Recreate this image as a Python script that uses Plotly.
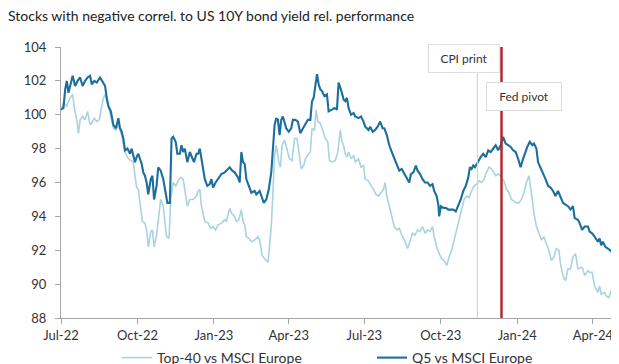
import pandas as pd
import plotly.graph_objects as go

START = "2022-07-01"

# Q5 vs MSCI Europe: day offsets from START and values
q5_days = [0,3,5,7,9,11,14,17,20,23,26,29,32,35,37,40,43,47,51,53,55,57,60,63,66,69,71,73,75,77,80,83,85,87,89,91,93,95,97,99,101,103,105,108,110,112,115,117,120,123,126,128,131,133,135,138,140,143,145,147,149,152,155,158,160,163,
           165,167,170,173,176,179,181,183,186,189,193,197,199,203,206,209,213,215,217,219,221,223,226,229,233,235,239,241,244,247,250,253,255,257,259,261,263,265,267,269,271,274,277,279,282,285,288,290,294,297,300,302,304,306,308,310,312,314,317,320,322,326,329,332,334,
           338,340,342,344,346,349,352,354,358,361,364,366,370,372,375,378,381,384,387,389,392,395,398,401,404,407,410,413,416,419,421,424,427,429,432,435,438,441,444,447,449,452,454,455,457,460,463,466,469,472,475,478,481,484,487,490,492,494,496,498,500,
           502,505,508,511,514,517,520,523,526,529,532,535,538,541,544,547,550,553,556,558,561,564,567,569,572,574,577,580,583,586,589,592,595,598,601,604,607,610,613,616,618,622,624,627,630,634,636,639,642,646,648,650,652,655,658,661,663,664,666,668,671,674]
q5_vals = [100.3,100.4,101.5,102.0,101.3,101.7,102.3,101.7,102.0,102.2,101.7,102.0,102.2,102.3,101.8,102.0,101.9,102.2,101.8,101.7,101.0,100.5,100.2,99.4,99.2,99.8,99.2,99.0,98.6,97.9,98.0,97.7,98.0,97.5,97.2,97.5,97.7,97.4,97.1,96.6,96.4,96.0,95.3,96.2,96.4,95.0,95.8,96.9,96.7,96.2,95.4,94.8,94.8,98.6,98.7,98.4,97.7,97.7,98.2,97.8,98.0,97.2,97.8,97.5,97.2,97.7,
           97.7,98.0,97.2,96.2,95.8,95.9,96.2,95.7,96.0,96.2,96.5,96.6,96.7,96.9,96.7,96.6,96.3,96.0,97.8,97.2,97.1,96.2,95.8,95.4,95.5,95.3,95.5,95.2,94.8,95.0,95.6,96.6,97.8,99.4,99.8,99.7,98.8,99.7,99.9,99.6,99.2,99.0,99.2,99.7,99.7,99.6,98.9,99.1,99.4,99.7,99.7,100.8,101.0,101.7,102.4,101.8,101.5,101.4,101.1,101.2,100.2,100.3,100.4,100.3,101.9,
           101.3,100.9,100.8,101.0,100.4,100.0,100.1,99.9,99.8,99.9,99.6,99.3,99.1,99.3,99.0,99.1,99.3,99.6,99.2,99.2,98.8,98.2,97.8,97.4,97.0,96.7,96.8,96.5,96.2,96.0,96.5,96.6,97.0,96.7,96.5,96.2,96.0,96.0,95.8,95.9,95.5,95.2,94.7,94.0,94.6,94.5,94.5,94.4,94.4,94.4,94.3,94.6,95.0,95.5,95.8,96.3,96.9,96.8,97.0,96.9,97.1,
           97.2,97.5,97.7,97.5,97.9,97.8,98.0,98.2,97.9,98.2,98.7,98.3,98.2,98.1,97.9,97.8,97.4,96.9,97.4,97.7,98.1,98.4,98.2,98.3,98.0,97.2,96.9,96.6,96.2,95.8,95.7,95.5,95.2,95.5,95.2,94.8,94.7,94.6,94.4,94.6,93.9,93.8,93.6,93.2,93.4,93.4,93.1,93.0,92.8,92.5,92.7,92.3,92.5,92.2,92.1,92.0,91.9,91.5,92.0,92.6,93.6,94.0]

# Top-40 vs MSCI Europe
top40_days = [0,3,7,11,14,16,19,21,23,26,29,32,35,37,40,43,46,49,51,53,55,59,63,66,69,73,77,81,87,89,91,93,95,98,101,103,105,108,110,112,115,118,120,123,125,127,130,132,135,138,141,144,147,150,152,155,159,163,
              165,167,169,173,177,180,183,186,189,193,197,199,203,205,209,211,214,217,219,221,223,226,229,233,235,237,239,242,245,249,250,253,255,257,259,262,264,266,269,273,275,278,281,284,286,289,292,294,298,300,302,305,307,309,312,314,318,321,323,326,330,333,
              336,338,340,342,344,346,349,352,354,358,361,364,366,370,373,376,379,382,385,388,390,392,395,398,401,404,407,410,414,417,420,423,426,429,432,435,438,441,444,447,449,452,455,458,461,464,467,470,473,476,479,482,485,488,491,494,497,500,503,
              506,509,512,515,518,520,523,526,529,531,533,536,539,542,545,548,551,554,557,560,563,565,567,569,572,575,578,581,584,587,590,593,596,599,601,604,607,610,613,616,619,622,626,628,630,634,636,639,642,646,648,650,654,656,659,662,664,666,669,672]
top40_vals = [100.3,100.7,100.5,101.0,101.2,100.4,99.7,98.9,99.7,99.9,99.7,100.2,99.4,99.5,99.8,99.6,99.7,100.6,101.0,101.2,100.9,100.1,99.2,99.1,99.4,98.8,97.8,97.4,97.2,96.4,95.7,95.6,94.8,93.7,93.6,93.2,92.2,93.1,93.2,92.2,92.9,94.4,95.0,94.6,93.6,92.8,92.7,95.0,96.0,95.8,96.1,96.3,96.2,95.2,94.6,95.0,95.0,95.2,
              95.5,95.6,94.6,93.7,93.6,93.3,93.4,93.2,93.5,93.6,93.8,93.7,94.5,94.2,94.0,93.7,93.8,94.4,93.7,93.5,92.8,92.7,92.5,92.6,92.7,92.8,92.6,91.7,91.5,91.3,91.8,93.4,95.4,97.6,98.2,97.2,96.9,98.2,98.5,97.8,97.4,97.3,98.6,98.6,97.8,96.8,97.0,97.4,97.7,97.8,99.2,99.1,100.3,99.6,99.5,99.2,98.6,98.4,97.3,97.2,97.3,97.8,
              99.1,98.4,98.2,97.7,97.5,97.8,97.4,97.6,97.2,97.4,96.9,97.0,96.2,96.1,95.8,95.6,95.3,95.2,95.4,95.6,96.0,95.2,94.6,94.0,93.4,93.2,93.3,92.9,92.5,92.1,92.6,93.0,92.9,93.2,93.1,93.4,93.0,93.2,93.1,93.4,92.8,92.2,91.8,91.5,91.4,91.1,91.6,92.0,92.6,93.2,93.8,94.4,95.0,95.2,95.1,95.5,95.8,95.9,96.1,
              96.0,96.2,96.6,96.9,96.8,96.6,96.4,96.5,96.4,96.2,96.1,95.6,95.4,95.0,94.9,94.8,94.8,95.0,95.4,96.0,96.4,95.8,95.0,94.2,93.4,93.0,92.6,92.8,92.4,92.0,91.4,91.6,92.1,92.0,91.2,90.5,90.2,90.9,90.9,91.6,91.8,90.9,91.0,90.9,90.5,90.8,90.7,90.7,89.9,89.5,89.9,89.4,89.5,89.3,89.2,89.6,89.0,89.5,90.2,90.8]

series_names = ["Top-40 vs MSCI Europe", "Q5 vs MSCI Europe"]
event_labels = ["CPI print", "Fed pivot"]
event_dates = ["2023-11-14", "2023-12-13"]
tick_labels = ["Jul-22", "Oct-22", "Jan-23", "Apr-23", "Jul-23", "Oct-23", "Jan-24", "Apr-24"]
tick_dates = ["2022-07-01", "2022-10-01", "2023-01-01", "2023-04-01", "2023-07-01", "2023-10-01", "2024-01-01", "2024-04-01"]

base = pd.Timestamp(START)
q5_x = base + pd.to_timedelta(q5_days, unit="D")
top40_x = base + pd.to_timedelta(top40_days, unit="D")

FONT = "Lato"
fig = go.Figure()
fig.add_trace(go.Scatter(x=top40_x, y=top40_vals, mode="lines", name=series_names[0],
                         line=dict(color="#a9d3df", width=1.6)))
fig.add_trace(go.Scatter(x=q5_x, y=q5_vals, mode="lines", name=series_names[1],
                         line=dict(color="#1c6e9b", width=2.1)))

# event lines
fig.add_shape(type="line", xref="x", yref="y", x0=event_dates[0], x1=event_dates[0], y0=88, y1=104.1,
              line=dict(color="#d8cdc6", width=1))
fig.add_shape(type="line", xref="x", yref="y", x0=event_dates[1], x1=event_dates[1], y0=88, y1=104.1,
              line=dict(color="#b3282e", width=2.5))

fig.add_annotation(x="2023-10-29", y=103.3, xref="x", yref="y", text=event_labels[0], showarrow=False,
                   font=dict(family=FONT, size=12, color="#333"), bgcolor="white",
                   bordercolor="#dddddd", borderwidth=1, borderpad=6, width=58)
fig.add_annotation(x="2024-01-09", y=101.05, xref="x", yref="y", text=event_labels[1], showarrow=False,
                   font=dict(family=FONT, size=12, color="#333"), bgcolor="white",
                   bordercolor="#dddddd", borderwidth=1, borderpad=6, width=62)

# the page body adds an 8px offset; layout is set so the plot lands where the reference has it
fig.update_layout(
    width=619, height=364,
    margin=dict(l=53, r=0, t=39, b=54, autoexpand=False),
    paper_bgcolor="white", plot_bgcolor="white",
    font=dict(family=FONT, color="#333"),
    title=dict(text="Stocks with negative correl. to US 10Y bond yield rel. performance",
               x=0, xanchor="left", y=1-8/364, yanchor="middle",
               font=dict(family=FONT, size=14, color="#222")),
    showlegend=True,
    legend=dict(orientation="h", xref="container", yref="container",
                x=109/619, xanchor="left", y=1-334/364, yanchor="top",
                font=dict(family=FONT, size=14, color="#333"), entrywidth=210, entrywidthmode="pixels",
                itemwidth=30, bgcolor="rgba(0,0,0,0)"),
    xaxis=dict(range=[START, "2024-05-12"], tickvals=tick_dates, ticktext=tick_labels, automargin=False,
               showgrid=False, zeroline=False, showline=True, linecolor="#a6a6a6", linewidth=1,
               ticks="outside", ticklen=5, tickcolor="#a6a6a6",
               tickfont=dict(family=FONT, size=13, color="#333")),
    yaxis=dict(range=[88, 104], dtick=2, showgrid=False, zeroline=False, showline=True, automargin=False,
               linecolor="#a6a6a6", linewidth=1, ticks="outside", ticklen=5, tickcolor="#a6a6a6",
               ticklabelstandoff=6,
               tickfont=dict(family=FONT, size=13, color="#333")),
)

fig.write_html("out.html")
